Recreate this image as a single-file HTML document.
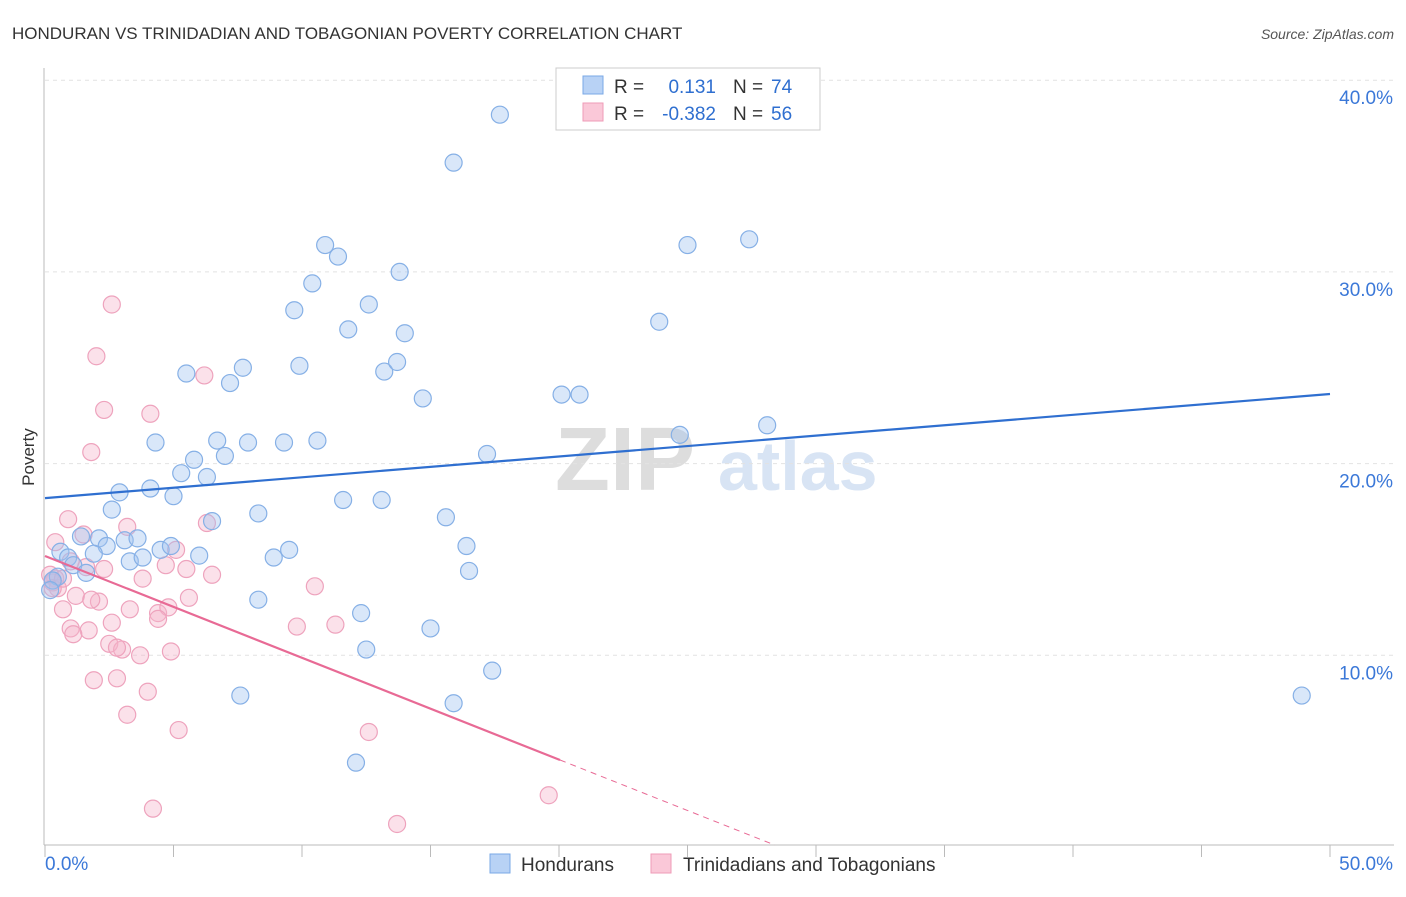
<!DOCTYPE html>
<html><head><meta charset="utf-8"><style>
body{margin:0;background:#fff;font-family:"Liberation Sans",sans-serif;}
svg text{font-family:"Liberation Sans",sans-serif;}
</style></head><body>
<svg id="c" width="1406" height="892">
<text x="12" y="39" font-size="17" fill="#333">HONDURAN VS TRINIDADIAN AND TOBAGONIAN POVERTY CORRELATION CHART</text>
<text x="1394" y="39" font-size="14" fill="#555" font-style="italic" text-anchor="end">Source: ZipAtlas.com</text>
<text x="34" y="457" font-size="17" fill="#333" transform="rotate(-90 34 457)" text-anchor="middle">Poverty</text>
<text x="555" y="490" font-size="90" fill="#ddd" font-family="Liberation Serif" font-weight="bold">ZIP</text>
<text x="718" y="490" font-size="70" fill="#d8e4f4" font-weight="bold">atlas</text>
<g id="grid"></g><g id="pts"></g><g id="lines"></g>
<g>
<rect x="556" y="68" width="264" height="62" fill="#fff" stroke="#ccc"/>
<rect x="583" y="76" width="20" height="18" fill="#b8d2f5" stroke="#7aa8e6"/>
<rect x="583" y="103" width="20" height="18" fill="#fac8d8" stroke="#ef9bb7"/>
<text x="614" y="93" font-size="19" fill="#333">R =</text><text x="716" y="93" font-size="19" fill="#2f6fd0" text-anchor="end">0.131</text>
<text x="733" y="93" font-size="19" fill="#333">N =</text><text x="771" y="93" font-size="19" fill="#2f6fd0">74</text>
<text x="614" y="120" font-size="19" fill="#333">R =</text><text x="716" y="120" font-size="19" fill="#2f6fd0" text-anchor="end">-0.382</text>
<text x="733" y="120" font-size="19" fill="#333">N =</text><text x="771" y="120" font-size="19" fill="#2f6fd0">56</text>
</g>
<g>
<rect x="490" y="854" width="20" height="19" fill="#b8d2f5" stroke="#7aa8e6"/>
<text x="521" y="871" font-size="19" fill="#333">Hondurans</text>
<rect x="651" y="854" width="20" height="19" fill="#fac8d8" stroke="#ef9bb7"/>
<text x="683" y="871" font-size="19" fill="#333">Trinidadians and Tobagonians</text>
</g>
</svg>
<script>
const yTicks=[10,20,30,40];
const yTickLabels=["10.0%","20.0%","30.0%","40.0%"];
const xLabels=["0.0%","50.0%"];
const blueX=[17.7,15.9,10.9,11.4,25.0,27.4,13.8,10.4,9.7,12.6,11.8,14.0,23.9,5.5,7.7,9.9,13.2,13.7,7.2,14.7,20.1,20.8,28.1,24.7,4.3,6.7,7.9,9.3,10.6,7.0,5.8,17.2,5.3,6.3,4.1,2.9,5.0,11.6,13.1,2.6,8.3,15.6,6.5,3.1,3.6,2.1,1.4,2.4,1.9,4.5,4.9,0.6,0.9,9.5,16.4,6.0,8.9,3.3,3.8,1.1,1.6,16.5,0.5,0.3,0.2,12.3,8.3,15.0,12.5,17.4,7.6,15.9,48.9,12.1];
const blueY=[38.2,35.7,31.4,30.8,31.4,31.7,30.0,29.4,28.0,28.3,27.0,26.8,27.4,24.7,25.0,25.1,24.8,25.3,24.2,23.4,23.6,23.6,22.0,21.5,21.1,21.2,21.1,21.1,21.2,20.4,20.2,20.5,19.5,19.3,18.7,18.5,18.3,18.1,18.1,17.6,17.4,17.2,17.0,16.0,16.1,16.1,16.2,15.7,15.3,15.5,15.7,15.4,15.1,15.5,15.7,15.2,15.1,14.9,15.1,14.7,14.3,14.4,14.1,13.9,13.4,12.2,12.9,11.4,10.3,9.2,7.9,7.5,7.9,4.4];
const blueTrend=[18.2,23.63];
const pinkX=[2.6,2.0,6.2,2.3,4.1,1.8,0.9,6.3,3.2,1.5,0.4,5.1,1.0,1.6,2.3,4.7,5.5,6.5,3.8,0.4,0.3,0.5,1.2,2.1,3.3,1.8,5.6,10.5,0.7,4.4,4.8,4.4,2.6,9.8,11.3,1.0,1.7,1.1,2.5,3.0,2.8,3.7,4.9,1.9,2.8,4.0,3.2,5.2,12.6,4.2,19.6,13.7,0.2,0.3,0.7];
const pinkY=[28.3,25.6,24.6,22.8,22.6,20.6,17.1,16.9,16.7,16.3,15.9,15.5,14.9,14.6,14.5,14.7,14.5,14.2,14.0,14.0,13.8,13.5,13.1,12.8,12.4,12.9,13.0,13.6,12.4,12.2,12.5,11.9,11.7,11.5,11.6,11.4,11.3,11.1,10.6,10.3,10.4,10.0,10.2,8.7,8.8,8.1,6.9,6.1,6.0,2.0,2.7,1.2,14.2,13.5,14.0];
const pinkTrendA=15.18, pinkSlope=-0.531, pinkSolidEnd=20.04, pinkDashEnd=28.4;
const NS="http://www.w3.org/2000/svg";
const X=v=>45+v*25.7, Y=v=>847-v*19.17;
function mk(t,a,p){const e=document.createElementNS(NS,t);for(const k in a)e.setAttribute(k,a[k]);p.appendChild(e);return e;}
const g=document.getElementById('grid');
yTicks.forEach((t,i)=>{
 const l=mk('line',{x1:45,x2:1394,y1:Y(t),y2:Y(t),stroke:'#e2e2e2','stroke-dasharray':'4,4'},g);
 
 
 const tx=mk('text',{x:1393,y:Y(t)+24,'font-size':19,fill:'#3b78d8','text-anchor':'end'},g);tx.textContent=yTickLabels[i];
 
 
});
mk('line',{x1:44,x2:44,y1:68,y2:845,stroke:'#bbb'},g);
mk('line',{x1:44,x2:1394,y1:845,y2:845,stroke:'#bbb'},g);
for(let k=0;k<=10;k++){const t=mk('line',{x1:X(k*5),x2:X(k*5),y1:845,y2:857,stroke:'#bbb'},g);
 
 }
[[0,'start',45],[50,'end',1393]].forEach((a,i)=>{const t=mk('text',{x:a[2],y:870,'font-size':19,fill:'#3b78d8','text-anchor':a[1]},g);t.textContent=xLabels[i];
 
 });
const p=document.getElementById('pts');
pinkX.forEach((x,i)=>{const c=mk('circle',{cx:X(x),cy:Y(pinkY[i]),r:8.5,fill:'rgba(246,180,202,0.4)',stroke:'#eea3bd','stroke-width':1.2},p);
 
 });
blueX.forEach((x,i)=>{const c=mk('circle',{cx:X(x),cy:Y(blueY[i]),r:8.5,fill:'rgba(160,195,240,0.4)',stroke:'#86b0e6','stroke-width':1.2},p);
 
 });
const L=document.getElementById('lines');
const bl=mk('line',{x1:X(0),y1:Y(blueTrend[0]),x2:X(50),y2:Y(blueTrend[1]),stroke:'#2f6fd0','stroke-width':2.2},L);


const pl=mk('line',{x1:X(0),y1:Y(pinkTrendA),x2:X(pinkSolidEnd),y2:Y(pinkTrendA+pinkSlope*pinkSolidEnd),stroke:'#e86a95','stroke-width':2.2},L);


const pd=mk('line',{x1:X(pinkSolidEnd),y1:Y(pinkTrendA+pinkSlope*pinkSolidEnd),x2:X(pinkDashEnd),y2:Y(pinkTrendA+pinkSlope*pinkDashEnd),stroke:'#e86a95','stroke-width':1,'stroke-dasharray':'6,5'},L);


</script>
</body></html>
